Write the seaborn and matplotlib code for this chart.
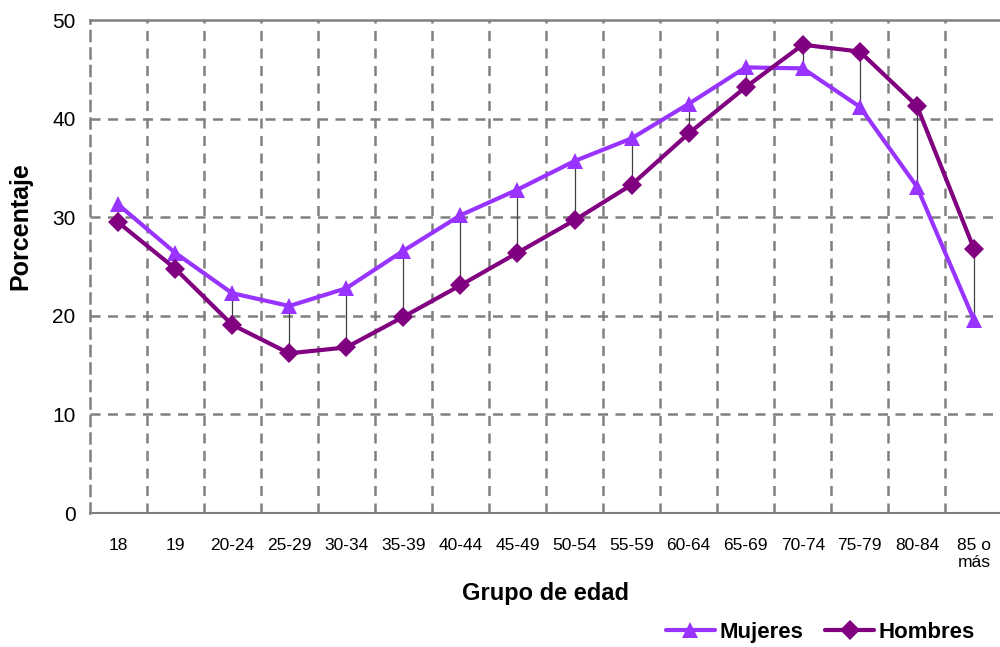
import numpy as np
import seaborn as sns
import matplotlib.pyplot as plt
import pandas as pd

grupos = ['18', '19', '20-24', '25-29', '30-34', '35-39', '40-44', '45-49',
          '50-54', '55-59', '60-64', '65-69', '70-74', '75-79', '80-84', '85 o\nmás']
mujeres = [31.3, 26.4, 22.3, 21.0, 22.8, 26.6, 30.2, 32.8,
           35.7, 38.0, 41.5, 45.2, 45.1, 41.2, 33.1, 19.6]
hombres = [29.5, 24.8, 19.1, 16.2, 16.8, 19.9, 23.1, 26.4,
           29.7, 33.3, 38.5, 43.2, 47.5, 46.8, 41.3, 26.8]

sns.set_style('white')
plt.rcParams['font.family'] = ['Liberation Sans Narrow', 'Liberation Sans', 'DejaVu Sans']
plt.rcParams['text.color'] = 'black'
plt.rcParams['xtick.color'] = 'black'
plt.rcParams['ytick.color'] = 'black'
plt.rcParams['axes.labelcolor'] = 'black'

pos = np.arange(len(grupos))
df = pd.DataFrame({
    'pos': np.concatenate([pos, pos]),
    'valor': mujeres + hombres,
    'sexo': ['Mujeres'] * len(grupos) + ['Hombres'] * len(grupos),
})

fig = plt.figure(figsize=(10, 6.47), dpi=100)
ax = fig.add_axes([0.0895, 0.207, 0.913, 0.762])

# lineas alto-bajo entre series
ax.vlines(pos, np.minimum(mujeres, hombres), np.maximum(mujeres, hombres),
          color='#404040', lw=0.9, zorder=2)

colores = {'Mujeres': '#9933FF', 'Hombres': '#800080'}
sns.lineplot(data=df, x='pos', y='valor', hue='sexo', style='sexo',
             palette=colores, markers={'Mujeres': '^', 'Hombres': 'D'},
             dashes=False, markersize=12, markeredgewidth=0, lw=3,
             ax=ax, zorder=3, legend=False)
for ln in ax.lines:
    if ln.get_marker() == 'D':
        ln.set_markersize(10.5)

ax.set_xlim(-0.5, 15.5)
ax.set_ylim(0, 50)
ax.set_yticks([0, 10, 20, 30, 40, 50])
ax.set_xticks(pos)
ax.set_xticklabels(grupos, fontsize=12.5, va='top')
ax.set_xticks(pos[:-1] + 0.5, minor=True)
ax.tick_params(axis='x', which='major', length=0, pad=18)
ax.tick_params(axis='x', which='minor', length=6, width=1, color='#808080', direction='out')
ax.tick_params(axis='y', labelsize=15, length=0, pad=10)

for x in pos[:-1] + 0.5:
    ax.axvline(x, color='#808080', lw=1.8, ls=(0, (4, 3)), zorder=1)
for y in [10, 20, 30, 40]:
    ax.axhline(y, color='#808080', lw=1.8, ls=(0, (4, 3)), zorder=1)

ax.spines['right'].set_visible(False)
ax.spines['top'].set_color('#808080')
ax.spines['top'].set_linewidth(1.8)
ax.spines['bottom'].set_color('#808080')
ax.spines['bottom'].set_linewidth(1.5)
ax.spines['left'].set_color('#808080')
ax.spines['left'].set_linewidth(1.8)
ax.spines['left'].set_linestyle((0, (4, 3)))

ax.set_xlabel('Grupo de edad', fontsize=17, fontweight='bold', labelpad=8)
ax.set_ylabel('Porcentaje', fontsize=18, fontweight='bold')
ax.yaxis.set_label_coords(-0.063, 0.583)

h1, = ax.plot([], [], color=colores['Mujeres'], marker='^', markersize=12, lw=3, markeredgewidth=0)
h2, = ax.plot([], [], color=colores['Hombres'], marker='D', markersize=10, lw=3, markeredgewidth=0)
fig.legend([h1, h2], ['Mujeres', 'Hombres'], loc='center right',
           bbox_to_anchor=(0.995, 0.023), ncol=2, frameon=False,
           prop={'weight': 'bold', 'size': 16}, handlelength=2.2,
           handletextpad=0.2, columnspacing=1.0)

fig.savefig('out.png', dpi=100)
